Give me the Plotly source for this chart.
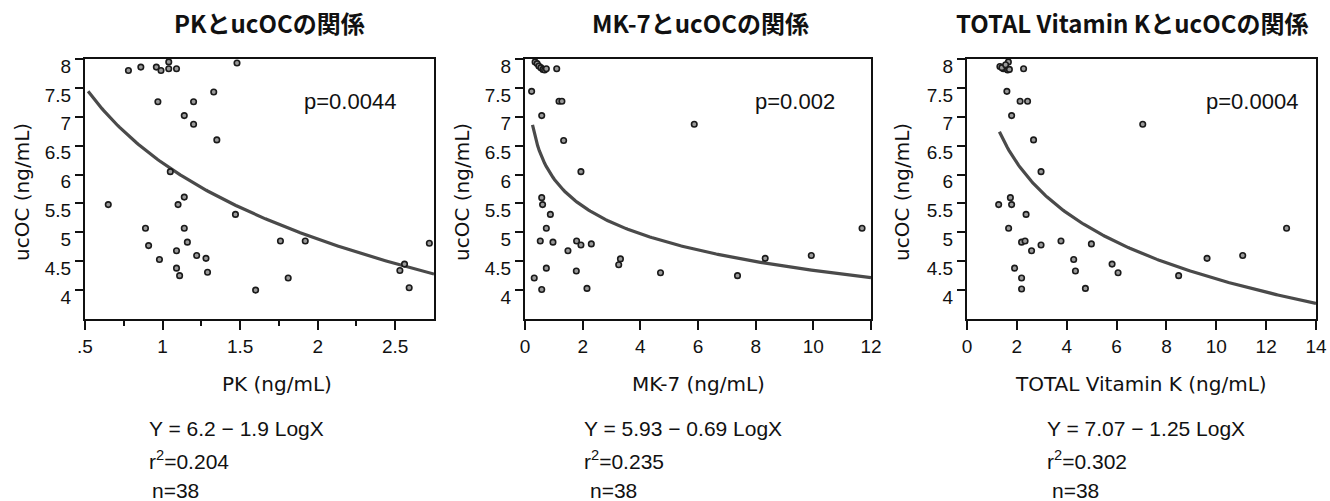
import numpy as np
import plotly.graph_objects as go

# ---------------- data ----------------
ucoc = [7.80, 7.86, 7.86, 7.80, 7.95, 7.83, 7.83, 7.93, 7.26, 7.26,
        7.43, 7.02, 6.87, 6.60, 6.05, 5.48, 5.61, 5.48, 5.31, 5.07,
        5.07, 4.77, 4.83, 4.68, 4.85, 4.85, 4.81, 4.53, 4.60, 4.55,
        4.38, 4.25, 4.31, 4.00, 4.21, 4.34, 4.45, 4.04]
pk = [0.78, 0.86, 0.96, 0.99, 1.04, 1.04, 1.09, 1.48, 0.97, 1.20,
      1.33, 1.14, 1.20, 1.35, 1.05, 0.65, 1.14, 1.10, 1.47, 0.89,
      1.14, 0.91, 1.16, 1.09, 1.76, 1.92, 2.72, 0.98, 1.22, 1.28,
      1.09, 1.11, 1.29, 1.60, 1.81, 2.53, 2.56, 2.59]

mk7_x = [0.35, 0.42, 0.48, 0.55, 0.62, 0.68, 0.74, 1.10, 0.23, 1.18,
         1.28, 0.58, 5.87, 1.34, 1.94, 0.58, 0.61, 0.88, 0.74, 11.69,
         0.53, 0.97, 1.79, 1.94, 2.30, 1.49, 3.31, 3.25, 8.33, 9.93,
         0.74, 1.78, 4.70, 7.37, 0.32, 0.58, 2.15]
mk7_y = [7.95, 7.92, 7.88, 7.85, 7.82, 7.81, 7.83, 7.83, 7.44, 7.27,
         7.27, 7.02, 6.87, 6.59, 6.05, 5.60, 5.48, 5.31, 5.07, 5.07,
         4.85, 4.83, 4.85, 4.78, 4.80, 4.68, 4.54, 4.44, 4.55, 4.60,
         4.38, 4.33, 4.30, 4.25, 4.21, 4.01, 4.03]

tvk_x = [1.32, 1.46, 1.63, 1.66, 2.27, 1.40, 1.55, 1.70, 1.60, 2.13,
         2.43, 1.79, 7.05, 2.67, 2.97, 1.27, 1.74, 1.79, 2.37, 1.67,
         12.82, 2.19, 2.33, 2.97, 3.77, 4.99, 2.59, 4.28, 4.35, 5.82,
         6.06, 9.63, 11.06, 1.91, 2.19, 2.19, 4.75, 8.49]
tvk_y = [7.87, 7.83, 7.81, 7.95, 7.83, 7.85, 7.90, 7.82, 7.44, 7.27,
         7.27, 7.02, 6.87, 6.60, 6.05, 5.48, 5.60, 5.48, 5.31, 5.07,
         5.07, 4.83, 4.85, 4.78, 4.85, 4.80, 4.68, 4.53, 4.33, 4.45,
         4.30, 4.55, 4.60, 4.38, 4.21, 4.02, 4.03, 4.25]

titles = ["PKとucOCの関係", "MK-7とucOCの関係", "TOTAL Vitamin KとucOCの関係"]
x_titles = ["PK (ng/mL)", "MK-7 (ng/mL)", "TOTAL Vitamin K (ng/mL)"]
p_values = ["p=0.0044", "p=0.002", "p=0.0004"]
equations = ["Y = 6.2 − 1.9 LogX", "Y = 5.93 − 0.69 LogX", "Y = 7.07 − 1.25 LogX"]
r2_values = ["0.204", "0.235", "0.302"]
n_values = ["38", "38", "38"]
intercepts = [6.2, 5.93, 7.07]
slopes = [1.9, 0.69, 1.25]
curve_start = [0.52, 0.26, 1.3]
x_ranges = [[0.5, 2.75], [0, 12], [0, 14]]
pk_tickvals = [0.5, 1, 1.5, 2, 2.5]
pk_ticktext = [".5", "1", "1.5", "2", "2.5"]
pk_minor = [0.75, 1.25, 1.75, 2.25]
y_tickvals = [4, 4.5, 5, 5.5, 6, 6.5, 7, 7.5, 8]
y_ticktext = ["4", "4.5", "5", "5.5", "6", "6.5", "7", "7.5", "8"]

# ---------------- layout geometry (pixels) ----------------
W, H = 1330, 501
panels_px = [(85, 434), (525, 871), (967, 1316)]
top_px, bot_px = 59, 319
title_cx = [269, 700, 1132]
ytitle_cx = [22, 462, 902]
xtitle_cx = [277, 698, 1141]
p_right = [398, 837, 1300]
eq_left = [147, 582, 1045]
n_left = [150, 588, 1050]

def px(x):
    return x / W

def py(y):
    return 1 - y / H

TXT = "#111111"
FONT = "Liberation Sans, Arial, sans-serif"
TFONT = "DejaVu Sans, sans-serif"
JFONT = "Noto Sans CJK JP, sans-serif"

fig = go.Figure()
xs_data = [pk, mk7_x, tvk_x]
ys_data = [ucoc, mk7_y, tvk_y]

for i in range(3):
    xa = "x" if i == 0 else f"x{i+1}"
    ya = "y" if i == 0 else f"y{i+1}"
    cx = np.linspace(curve_start[i], x_ranges[i][1], 200)
    cy = intercepts[i] - slopes[i] * np.log(cx)
    fig.add_trace(go.Scatter(x=cx, y=cy, mode="lines", xaxis=xa, yaxis=ya,
                             line=dict(color="#4a4a4a", width=3.2),
                             showlegend=False, hoverinfo="skip"))
    fig.add_trace(go.Scatter(x=xs_data[i], y=ys_data[i], mode="markers",
                             xaxis=xa, yaxis=ya,
                             marker=dict(size=5.5, color="#9a9a9a",
                                         line=dict(color="#1a1a1a", width=1.6)),
                             showlegend=False))

axis_common = dict(showline=True, linecolor="#111", linewidth=2, mirror=True,
                   ticks="outside", tickcolor="#111", tickwidth=1.5,
                   showgrid=False, zeroline=False, automargin=False,
                   tickfont=dict(family=FONT, size=19, color=TXT))

layout = dict(width=W, height=H, autosize=False, margin=dict(l=0, r=0, t=0, b=0, pad=0),
              paper_bgcolor="white", plot_bgcolor="white", showlegend=False)

for i in range(3):
    sx = "" if i == 0 else str(i + 1)
    l, r = panels_px[i]
    xaxis = dict(axis_common, domain=[px(l), px(r)], range=x_ranges[i],
                 anchor="y" + sx, ticklen=9)
    if i == 0:
        xaxis.update(tickmode="array", tickvals=pk_tickvals, ticktext=pk_ticktext,
                     minor=dict(tickmode="array", tickvals=pk_minor, ticklen=5,
                                tickcolor="#111", ticks="outside"))
    else:
        xaxis.update(tickmode="linear", tick0=0, dtick=2)
    yaxis = dict(axis_common, domain=[py(bot_px), py(top_px)], range=[3.5, 8],
                 anchor="x" + sx, tickmode="array", tickvals=y_tickvals,
                 ticktext=y_ticktext, ticklen=8, ticklabelshift=7)
    layout["xaxis" + sx] = xaxis
    layout["yaxis" + sx] = yaxis

annotations = []
for i in range(3):
    annotations.append(dict(text="<b>" + titles[i] + "</b>", xref="paper", yref="paper",
                            x=px(title_cx[i]), y=py(22), xanchor="center", yanchor="middle",
                            showarrow=False, font=dict(family=JFONT, size=24, color=TXT)))
    annotations.append(dict(text="ucOC (ng/mL)", xref="paper", yref="paper",
                            x=px(ytitle_cx[i]), y=py(192), xanchor="center", yanchor="middle",
                            textangle=-90, showarrow=False,
                            font=dict(family=TFONT, size=20, color=TXT)))
    annotations.append(dict(text=x_titles[i], xref="paper", yref="paper",
                            x=px(xtitle_cx[i]), y=py(384), xanchor="center", yanchor="middle",
                            showarrow=False, font=dict(family=TFONT, size=20, color=TXT)))
    annotations.append(dict(text=p_values[i], xref="paper", yref="paper",
                            x=px(p_right[i]), y=py(101), xanchor="right", yanchor="middle",
                            showarrow=False, font=dict(family=FONT, size=22, color=TXT)))
    annotations.append(dict(text=equations[i], xref="paper", yref="paper",
                            x=px(eq_left[i]), y=py(428), xanchor="left", yanchor="middle",
                            showarrow=False, font=dict(family=FONT, size=21, color=TXT)))
    annotations.append(dict(text="r<sup>2</sup>=" + r2_values[i], xref="paper", yref="paper",
                            x=px(eq_left[i]), y=py(460), xanchor="left", yanchor="middle",
                            showarrow=False, font=dict(family=FONT, size=21, color=TXT)))
    annotations.append(dict(text="n=" + n_values[i], xref="paper", yref="paper",
                            x=px(n_left[i]), y=py(490), xanchor="left", yanchor="middle",
                            showarrow=False, font=dict(family=FONT, size=21, color=TXT)))
layout["annotations"] = annotations

fig.update_layout(**layout)
fig.write_html("out.html",
               config={"displayModeBar": False, "responsive": False},
               post_script="document.body.style.margin='0';document.body.style.overflow='hidden';")
